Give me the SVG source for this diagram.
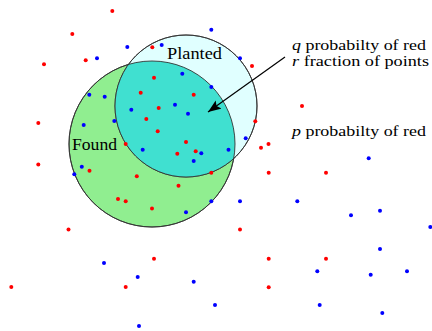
<svg xmlns="http://www.w3.org/2000/svg" width="432" height="331" viewBox="0 0 432 331">
<style>
.r{fill:#ff0000}
.b{fill:#0000ff}
.c{stroke:#333;stroke-width:0.9}
.t{font-family:"Liberation Serif","Times New Roman",serif;font-size:16.5px;fill:#000}
.s{font-size:14.5px}
.i{font-style:italic}
</style>
<defs>
<clipPath id="pc"><circle cx="186" cy="106" r="71"/></clipPath>
<marker id="ah" markerUnits="userSpaceOnUse" markerWidth="14" markerHeight="10" refX="13" refY="5" orient="auto">
<path d="M0,0 L13,5 L0,10 L2.5,5 z" fill="#000"/>
</marker>
</defs>
<rect width="432" height="331" fill="#fff"/>
<g id="found"><circle cx="152" cy="144" r="83" fill="#90ee90" class="c"/></g>
<g id="planted"><circle cx="186" cy="106" r="71" fill="#e0ffff" class="c"/>
<circle cx="152" cy="144" r="83" fill="#40e0d0" clip-path="url(#pc)"/>
<circle cx="152" cy="144" r="83" fill="none" class="c"/>
<circle cx="186" cy="106" r="71" fill="none" class="c"/></g>
<g id="labels">
<text class="t" x="167" y="59" textLength="55" lengthAdjust="spacingAndGlyphs">Planted</text>
<text class="t" x="72" y="150" textLength="45" lengthAdjust="spacingAndGlyphs">Found</text>
<text class="t s" x="292" y="49.5" textLength="134" lengthAdjust="spacingAndGlyphs"><tspan class="i">q</tspan> probabilty of red</text>
<text class="t s" x="292" y="66" textLength="137" lengthAdjust="spacingAndGlyphs"><tspan class="i">r</tspan> fraction of points</text>
<text class="t s" x="292" y="136" textLength="134" lengthAdjust="spacingAndGlyphs"><tspan class="i">p</tspan> probabilty of red</text>
</g>
<g id="connectors"><line x1="285" y1="57" x2="208" y2="112" stroke="#000" stroke-width="1.2" marker-end="url(#ah)"/></g>
<g id="points">
<circle class="r" cx="112.3" cy="11" r="2"/>
<circle class="r" cx="72.3" cy="34" r="2"/>
<circle class="r" cx="44" cy="64.3" r="2"/>
<circle class="r" cx="85.7" cy="60.3" r="2"/>
<circle class="b" cx="97" cy="58.3" r="2"/>
<circle class="b" cx="127.3" cy="47" r="2"/>
<circle class="b" cx="161.7" cy="45" r="2"/>
<circle class="r" cx="152.3" cy="47.3" r="2"/>
<circle class="b" cx="211.3" cy="29.7" r="2"/>
<circle class="r" cx="154" cy="77.7" r="2"/>
<circle class="b" cx="182.3" cy="73.7" r="2"/>
<circle class="b" cx="211.3" cy="87" r="2"/>
<circle class="b" cx="89.3" cy="94.7" r="2"/>
<circle class="b" cx="104.7" cy="96.7" r="2"/>
<circle class="r" cx="140.7" cy="92.7" r="2"/>
<circle class="r" cx="193.7" cy="94.7" r="2"/>
<circle class="b" cx="131.3" cy="109.7" r="2"/>
<circle class="r" cx="158.7" cy="108" r="2"/>
<circle class="b" cx="175" cy="104.7" r="2"/>
<circle class="b" cx="188" cy="113.7" r="2"/>
<circle class="r" cx="146.3" cy="119" r="2"/>
<circle class="b" cx="114.3" cy="121" r="2"/>
<circle class="r" cx="38.3" cy="123" r="2"/>
<circle class="b" cx="83.7" cy="125" r="2"/>
<circle class="r" cx="157.7" cy="131.3" r="2"/>
<circle class="r" cx="125.7" cy="144" r="2"/>
<circle class="b" cx="142.7" cy="149.7" r="2"/>
<circle class="r" cx="186" cy="142" r="2"/>
<circle class="r" cx="177.3" cy="153.7" r="2"/>
<circle class="r" cx="195.7" cy="151.3" r="2"/>
<circle class="b" cx="201.3" cy="153.3" r="2"/>
<circle class="b" cx="193.7" cy="161" r="2"/>
<circle class="r" cx="38.3" cy="164.5" r="2"/>
<circle class="b" cx="81.8" cy="166.8" r="2"/>
<circle class="b" cx="240" cy="58.3" r="2"/>
<circle class="r" cx="252" cy="66" r="2"/>
<circle class="r" cx="302" cy="106" r="2"/>
<circle class="r" cx="255.3" cy="121.3" r="2"/>
<circle class="b" cx="245.7" cy="138.3" r="2"/>
<circle class="b" cx="228.5" cy="149.8" r="2"/>
<circle class="r" cx="261" cy="147.7" r="2"/>
<circle class="r" cx="268.5" cy="144" r="2"/>
<circle class="b" cx="368.7" cy="158.3" r="2"/>
<circle class="b" cx="74.3" cy="174.3" r="2"/>
<circle class="r" cx="89.5" cy="170.7" r="2"/>
<circle class="r" cx="136.8" cy="176.3" r="2"/>
<circle class="r" cx="178.5" cy="185.7" r="2"/>
<circle class="r" cx="211.3" cy="172.7" r="2"/>
<circle class="b" cx="211.3" cy="201.2" r="2"/>
<circle class="r" cx="118" cy="199" r="2"/>
<circle class="r" cx="125.7" cy="201.3" r="2"/>
<circle class="r" cx="152" cy="208.5" r="2"/>
<circle class="b" cx="186" cy="212.3" r="2"/>
<circle class="r" cx="68.5" cy="229.5" r="2"/>
<circle class="r" cx="154" cy="258.7" r="2"/>
<circle class="b" cx="104" cy="263" r="2"/>
<circle class="b" cx="137.7" cy="277" r="2"/>
<circle class="b" cx="193.7" cy="281.7" r="2"/>
<circle class="r" cx="11.3" cy="287" r="2"/>
<circle class="r" cx="125.7" cy="287" r="2"/>
<circle class="b" cx="215" cy="305" r="2"/>
<circle class="b" cx="139" cy="326" r="2"/>
<circle class="r" cx="268.7" cy="172.7" r="2"/>
<circle class="r" cx="326" cy="172.7" r="2"/>
<circle class="b" cx="240" cy="201.3" r="2"/>
<circle class="b" cx="297.3" cy="201.3" r="2"/>
<circle class="b" cx="351" cy="215.3" r="2"/>
<circle class="b" cx="380" cy="210.7" r="2"/>
<circle class="b" cx="430.3" cy="227" r="2"/>
<circle class="r" cx="240" cy="229.5" r="2"/>
<circle class="b" cx="380" cy="249" r="2"/>
<circle class="r" cx="268.7" cy="258.7" r="2"/>
<circle class="r" cx="326" cy="258.7" r="2"/>
<circle class="b" cx="317.3" cy="271.3" r="2"/>
<circle class="b" cx="370.7" cy="274.7" r="2"/>
<circle class="b" cx="407" cy="271.3" r="2"/>
<circle class="r" cx="268.7" cy="287.3" r="2"/>
<circle class="b" cx="319.7" cy="305" r="2"/>
<circle class="b" cx="382.3" cy="313" r="2"/>
</g>
</svg>
